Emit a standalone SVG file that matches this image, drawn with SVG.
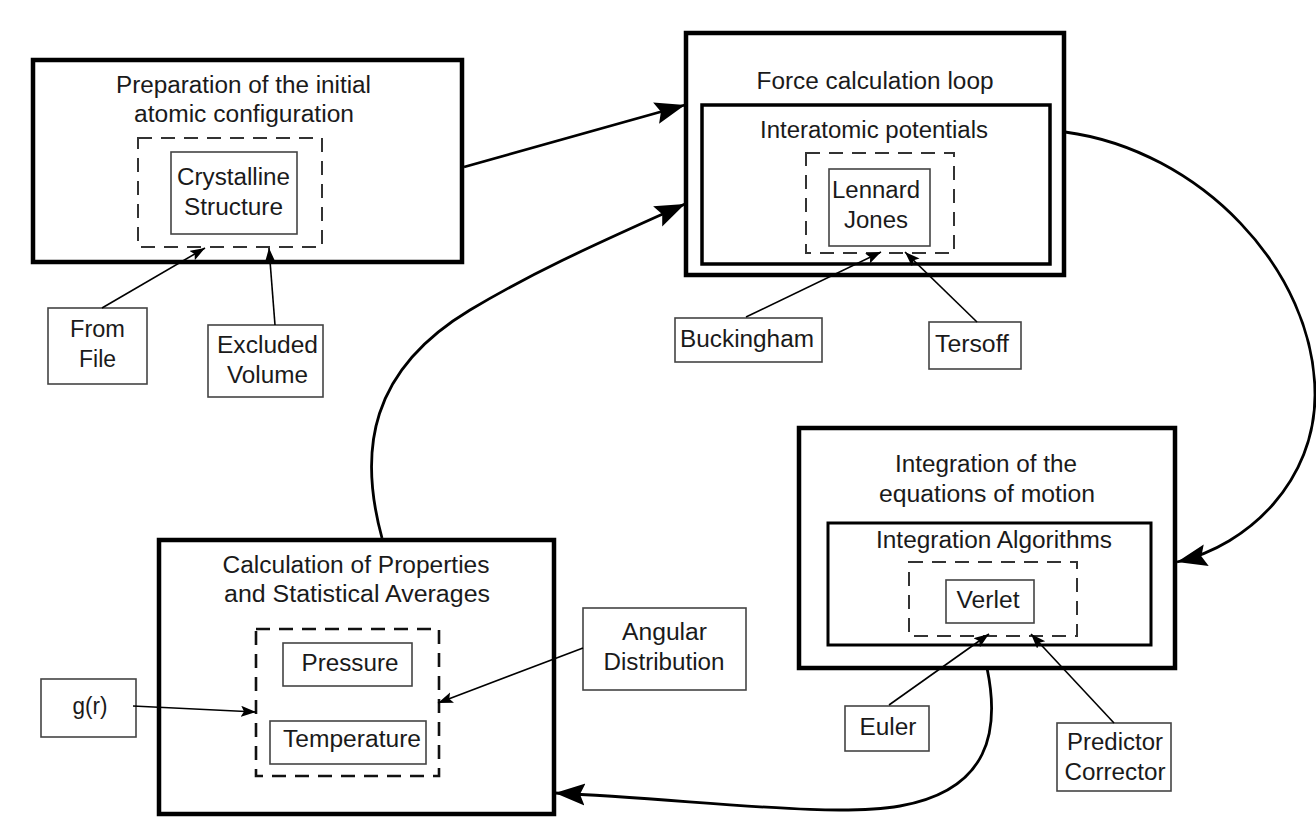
<svg xmlns="http://www.w3.org/2000/svg" width="1316" height="818" viewBox="0 0 1316 818">
<defs>
<marker id="big" markerUnits="userSpaceOnUse" markerWidth="32" markerHeight="26" refX="30" refY="12" orient="auto">
<path d="M0,1 L30,12 L0,23 L5,12 z" fill="#000"/>
</marker>
<marker id="small" markerUnits="userSpaceOnUse" markerWidth="16" markerHeight="12" refX="15" refY="5.5" orient="auto">
<path d="M0,0 L15,5.5 L0,11 L3,5.5 z" fill="#000"/>
</marker>
</defs>
<style>
text{font-family:"Liberation Sans",Arial,Helvetica,sans-serif;font-size:23px;fill:#1a1a1a;text-anchor:middle}
.outer{fill:none;stroke:#000;stroke-width:4.5}
.inner{fill:none;stroke:#000;stroke-width:3.5}
.dash{fill:none;stroke:#333;stroke-width:2;stroke-dasharray:14 9}
.dashb{fill:none;stroke:#111;stroke-width:2.6;stroke-dasharray:14 9}
.leaf{fill:#fff;stroke:#444;stroke-width:1.6}
.main{fill:none;stroke:#000;stroke-width:2.8}
.in{fill:none;stroke:#000;stroke-width:1.6}
</style>
<rect width="1316" height="818" fill="#fff"/>

<g id="prep">
<rect class="outer" x="33" y="60" width="429" height="202"/>
<text x="243.5" y="93" textLength="255" lengthAdjust="spacingAndGlyphs">Preparation of the initial</text>
<text x="244" y="122" textLength="220" lengthAdjust="spacingAndGlyphs">atomic configuration</text>
<rect class="dash" x="138" y="138" width="184" height="109"/>
</g>
<g id="crystalline">
<rect class="leaf" x="171" y="152" width="126" height="82"/>
<text x="233.5" y="185" textLength="113" lengthAdjust="spacingAndGlyphs">Crystalline</text>
<text x="233.5" y="215" textLength="99" lengthAdjust="spacingAndGlyphs">Structure</text>
</g>
<g id="fromfile">
<rect class="leaf" x="48" y="308" width="99" height="76"/>
<text x="97.5" y="337" textLength="55" lengthAdjust="spacingAndGlyphs">From</text>
<text x="97.5" y="367" textLength="37" lengthAdjust="spacingAndGlyphs">File</text>
</g>
<g id="excluded">
<rect class="leaf" x="208" y="325" width="115" height="72"/>
<text x="267.5" y="353" textLength="101" lengthAdjust="spacingAndGlyphs">Excluded</text>
<text x="267.5" y="383" textLength="81" lengthAdjust="spacingAndGlyphs">Volume</text>
</g>

<g id="force">
<rect class="outer" x="686" y="33" width="378" height="242"/>
<text x="875" y="89" textLength="237" lengthAdjust="spacingAndGlyphs">Force calculation loop</text>
</g>
<g id="interatomic">
<rect class="inner" x="702" y="105" width="348" height="159"/>
<text x="874" y="138" textLength="228" lengthAdjust="spacingAndGlyphs">Interatomic potentials</text>
<rect class="dash" x="806" y="153" width="148" height="100"/>
</g>
<g id="lennard">
<rect class="leaf" x="829" y="169" width="101" height="77"/>
<text x="876" y="198" textLength="88" lengthAdjust="spacingAndGlyphs">Lennard</text>
<text x="876" y="228" textLength="64" lengthAdjust="spacingAndGlyphs">Jones</text>
</g>
<g id="buckingham">
<rect class="leaf" x="675" y="318" width="147" height="44"/>
<text x="747" y="347" textLength="134" lengthAdjust="spacingAndGlyphs">Buckingham</text>
</g>
<g id="tersoff">
<rect class="leaf" x="929" y="322" width="92" height="47"/>
<text x="972" y="352" textLength="74" lengthAdjust="spacingAndGlyphs">Tersoff</text>
</g>

<g id="integration">
<rect class="outer" x="799" y="428" width="376" height="240"/>
<text x="986" y="472" textLength="182" lengthAdjust="spacingAndGlyphs">Integration of the</text>
<text x="987" y="502" textLength="216" lengthAdjust="spacingAndGlyphs">equations of motion</text>
</g>
<g id="algorithms">
<rect class="inner" x="828" y="523" width="323" height="122" style="stroke-width:3"/>
<text x="994" y="548" textLength="236" lengthAdjust="spacingAndGlyphs">Integration Algorithms</text>
<rect class="dash" x="909" y="562" width="168" height="74"/>
</g>
<g id="verlet">
<rect class="leaf" x="946" y="580" width="88" height="43"/>
<text x="988" y="608" textLength="63" lengthAdjust="spacingAndGlyphs">Verlet</text>
</g>
<g id="euler">
<rect class="leaf" x="845" y="706" width="84" height="45"/>
<text x="888" y="735" textLength="57" lengthAdjust="spacingAndGlyphs">Euler</text>
</g>
<g id="predictor">
<rect class="leaf" x="1057" y="723" width="114" height="68"/>
<text x="1115" y="750" textLength="96" lengthAdjust="spacingAndGlyphs">Predictor</text>
<text x="1115" y="780" textLength="101" lengthAdjust="spacingAndGlyphs">Corrector</text>
</g>

<g id="properties">
<rect class="outer" x="159" y="540" width="395" height="274"/>
<text x="356" y="573" textLength="267" lengthAdjust="spacingAndGlyphs">Calculation of Properties</text>
<text x="357" y="602" textLength="266" lengthAdjust="spacingAndGlyphs">and Statistical Averages</text>
<rect class="dashb" x="256" y="629" width="183" height="147"/>
</g>
<g id="pressure">
<rect class="leaf" x="283" y="643" width="129" height="43"/>
<text x="350" y="671" textLength="97" lengthAdjust="spacingAndGlyphs">Pressure</text>
</g>
<g id="temperature">
<rect class="leaf" x="270" y="721" width="156" height="43"/>
<text x="352" y="747" textLength="138" lengthAdjust="spacingAndGlyphs">Temperature</text>
</g>
<g id="gr">
<rect class="leaf" x="41" y="679" width="95" height="58"/>
<text x="90" y="714" textLength="35" lengthAdjust="spacingAndGlyphs">g(r)</text>
</g>
<g id="angular">
<rect class="leaf" x="583" y="608" width="163" height="82"/>
<text x="664.5" y="640" textLength="85" lengthAdjust="spacingAndGlyphs">Angular</text>
<text x="664" y="670" textLength="121" lengthAdjust="spacingAndGlyphs">Distribution</text>
</g>

<g id="connectors">
<path class="main" d="M464,167 L685,105" marker-end="url(#big)"/>
<path class="main" d="M1065,132 C1200,150 1315,270 1315,395 C1315,480 1250,545 1177,562" marker-end="url(#big)"/>
<path class="main" d="M987,668 C1000,730 990,790 900,806 C830,818 700,800 555,793" marker-end="url(#big)"/>
<path class="main" d="M382,538 C358,450 370,370 470,310 C540,268 610,238 685,204" marker-end="url(#big)"/>
<path class="in" d="M102,308 L205,248" marker-end="url(#small)"/>
<path class="in" d="M275,325 L269,248" marker-end="url(#small)"/>
<path class="in" d="M746,317 L881,252" marker-end="url(#small)"/>
<path class="in" d="M977,322 L905,252" marker-end="url(#small)"/>
<path class="in" d="M889,705 L989,634" marker-end="url(#small)"/>
<path class="in" d="M1114,723 L1031,634" marker-end="url(#small)"/>
<path class="in" d="M133,706 L256,712" marker-end="url(#small)"/>
<path class="in" d="M583,648 L438,703" marker-end="url(#small)"/>
</g>
</svg>
